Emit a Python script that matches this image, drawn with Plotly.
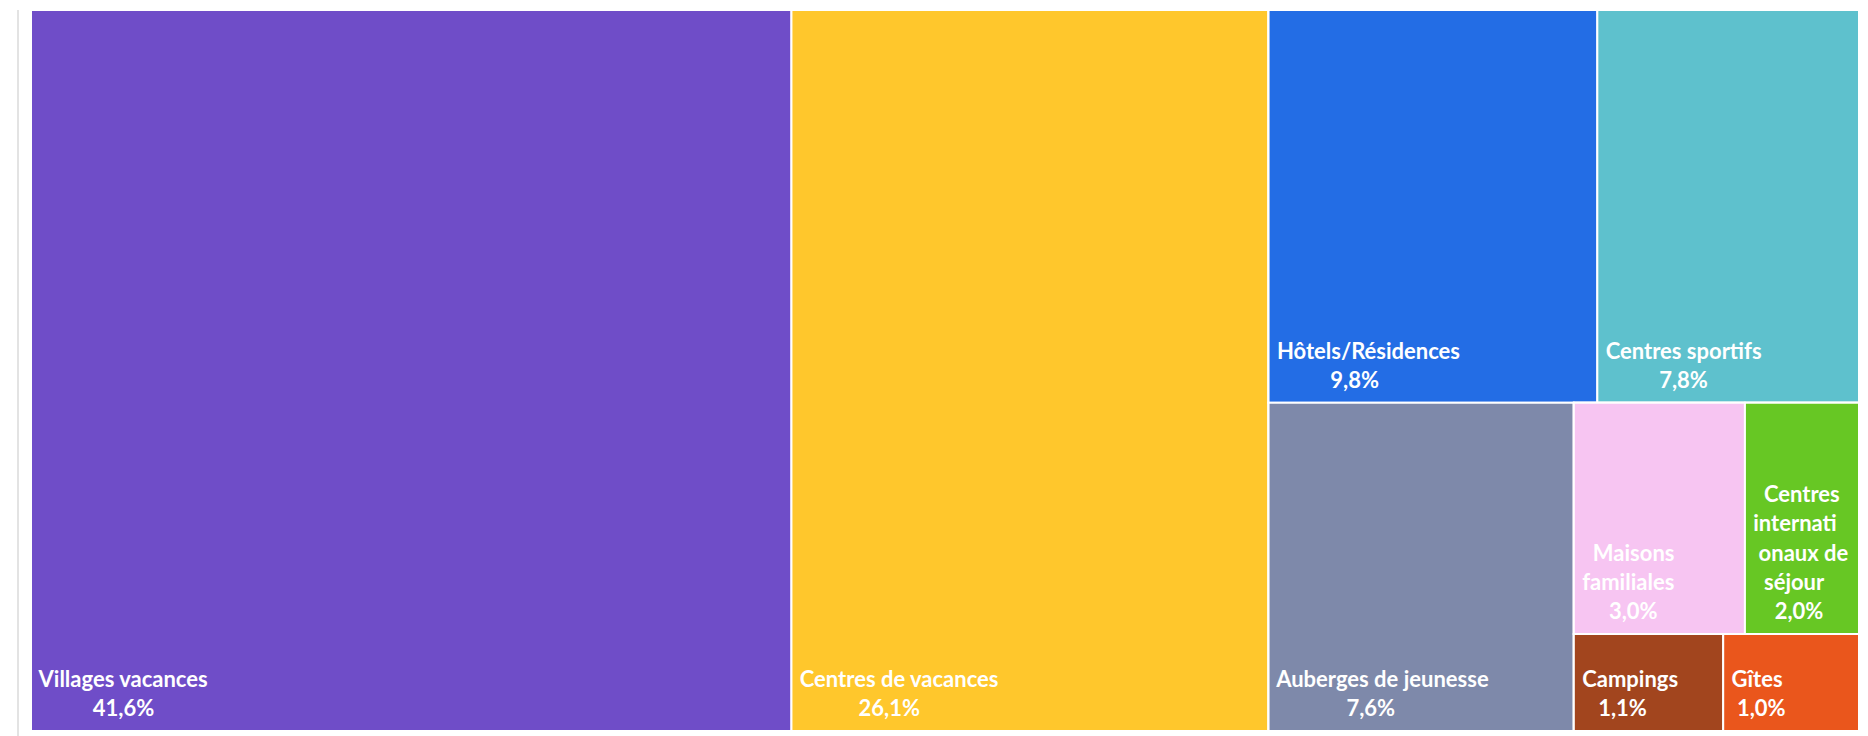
import plotly.graph_objects as go

# Parts de l'hébergement (en %)
categories = ['Villages vacances', 'Centres de vacances', 'Hôtels/Résidences', 'Centres sportifs',
              'Auberges de jeunesse', 'Maisons familiales', 'Centres internationaux de séjour',
              'Campings', 'Gîtes']
shares = [41.6, 26.1, 9.8, 7.8, 7.6, 3.0, 2.0, 1.1, 1.0]
colors = ['#6F4DC8', '#FFC72C', '#236DE5', '#5EC1CD', '#7E89AA', '#F7C5F2', '#67C724', '#A2451E', '#EA561C']
# how each label is broken into lines inside its tile
label_lines = [['Villages vacances'], ['Centres de vacances'], ['Hôtels/Résidences'], ['Centres sportifs'],
               ['Auberges de jeunesse'], ['Maisons', 'familiales'],
               ['Centres', 'internati', 'onaux de', 'séjour'], ['Campings'], ['Gîtes']]

# invisible grouping nodes, used to reproduce the tile arrangement
group_ids = ['rest', 'rest_top', 'rest_bottom', 'small', 'small_top', 'small_bottom']
group_parents = ['', 'rest', 'rest', 'rest_bottom', 'small', 'small']
cat_parents = ['', '', 'rest_top', 'rest_top', 'rest_bottom', 'small_top', 'small_top',
               'small_bottom', 'small_bottom']

NBSP = '\u00a0'


def label_text(lines):
    # lines centred on each other, block kept in the bottom-left corner
    width = max(len(l) for l in lines)
    out = []
    for l in lines:
        pad = int(round((width - len(l)) * 0.8))
        out.append('<span style="font-size:22px">' + NBSP + NBSP * pad + l + '</span>')
    # triple breaks at a small base size give the line spacing, the last one lifts the block
    return '<br><br><br>'.join(out) + '<br>' + NBSP


texts = []
for lines, v in zip(label_lines, shares):
    pct = f'{v:.1f}'.replace('.', ',') + '%'
    texts.append(label_text(lines + [pct]))

# parent values are the sum of their children
parent_of = dict(zip(categories, cat_parents))
parent_of.update(dict(zip(group_ids, group_parents)))
group_vals = {g: 0.0 for g in group_ids}
for c, v in zip(categories, shares):
    p = parent_of[c]
    while p:
        group_vals[p] += v
        p = parent_of[p]

ids = categories + group_ids
parents = cat_parents + group_parents
vals = shares + [round(group_vals[g], 1) for g in group_ids]
text = texts + [''] * len(group_ids)
marker_colors = colors + ['#ffffff'] * len(group_ids)

fig = go.Figure(go.Treemap(
    ids=ids,
    labels=ids,
    parents=parents,
    values=vals,
    text=text,
    branchvalues='total',
    sort=False,
    textinfo='text',
    textposition='bottom left',
    textfont=dict(family='Lato', size=7.5, color='white', weight='bold'),
    marker=dict(colors=marker_colors, line=dict(color='white', width=2),
                pad=dict(t=0, l=0, r=0, b=0)),
    tiling=dict(packing='slice-dice', pad=0),
    pathbar=dict(visible=False),
    hoverinfo='skip',
))

# page body adds an 8px margin, so the figure is sized to end at the window edge
fig.update_layout(
    width=1860,
    height=728,
    margin=dict(l=23, r=9, t=2, b=5),
    paper_bgcolor='white',
    font=dict(family='Lato'),
)

fig.add_shape(type='line', xref='paper', yref='paper', x0=-0.0071, x1=-0.0071, y0=-0.01, y1=1.0,
              line=dict(color='#e3e3e3', width=2))

fig.write_html('out.html')
